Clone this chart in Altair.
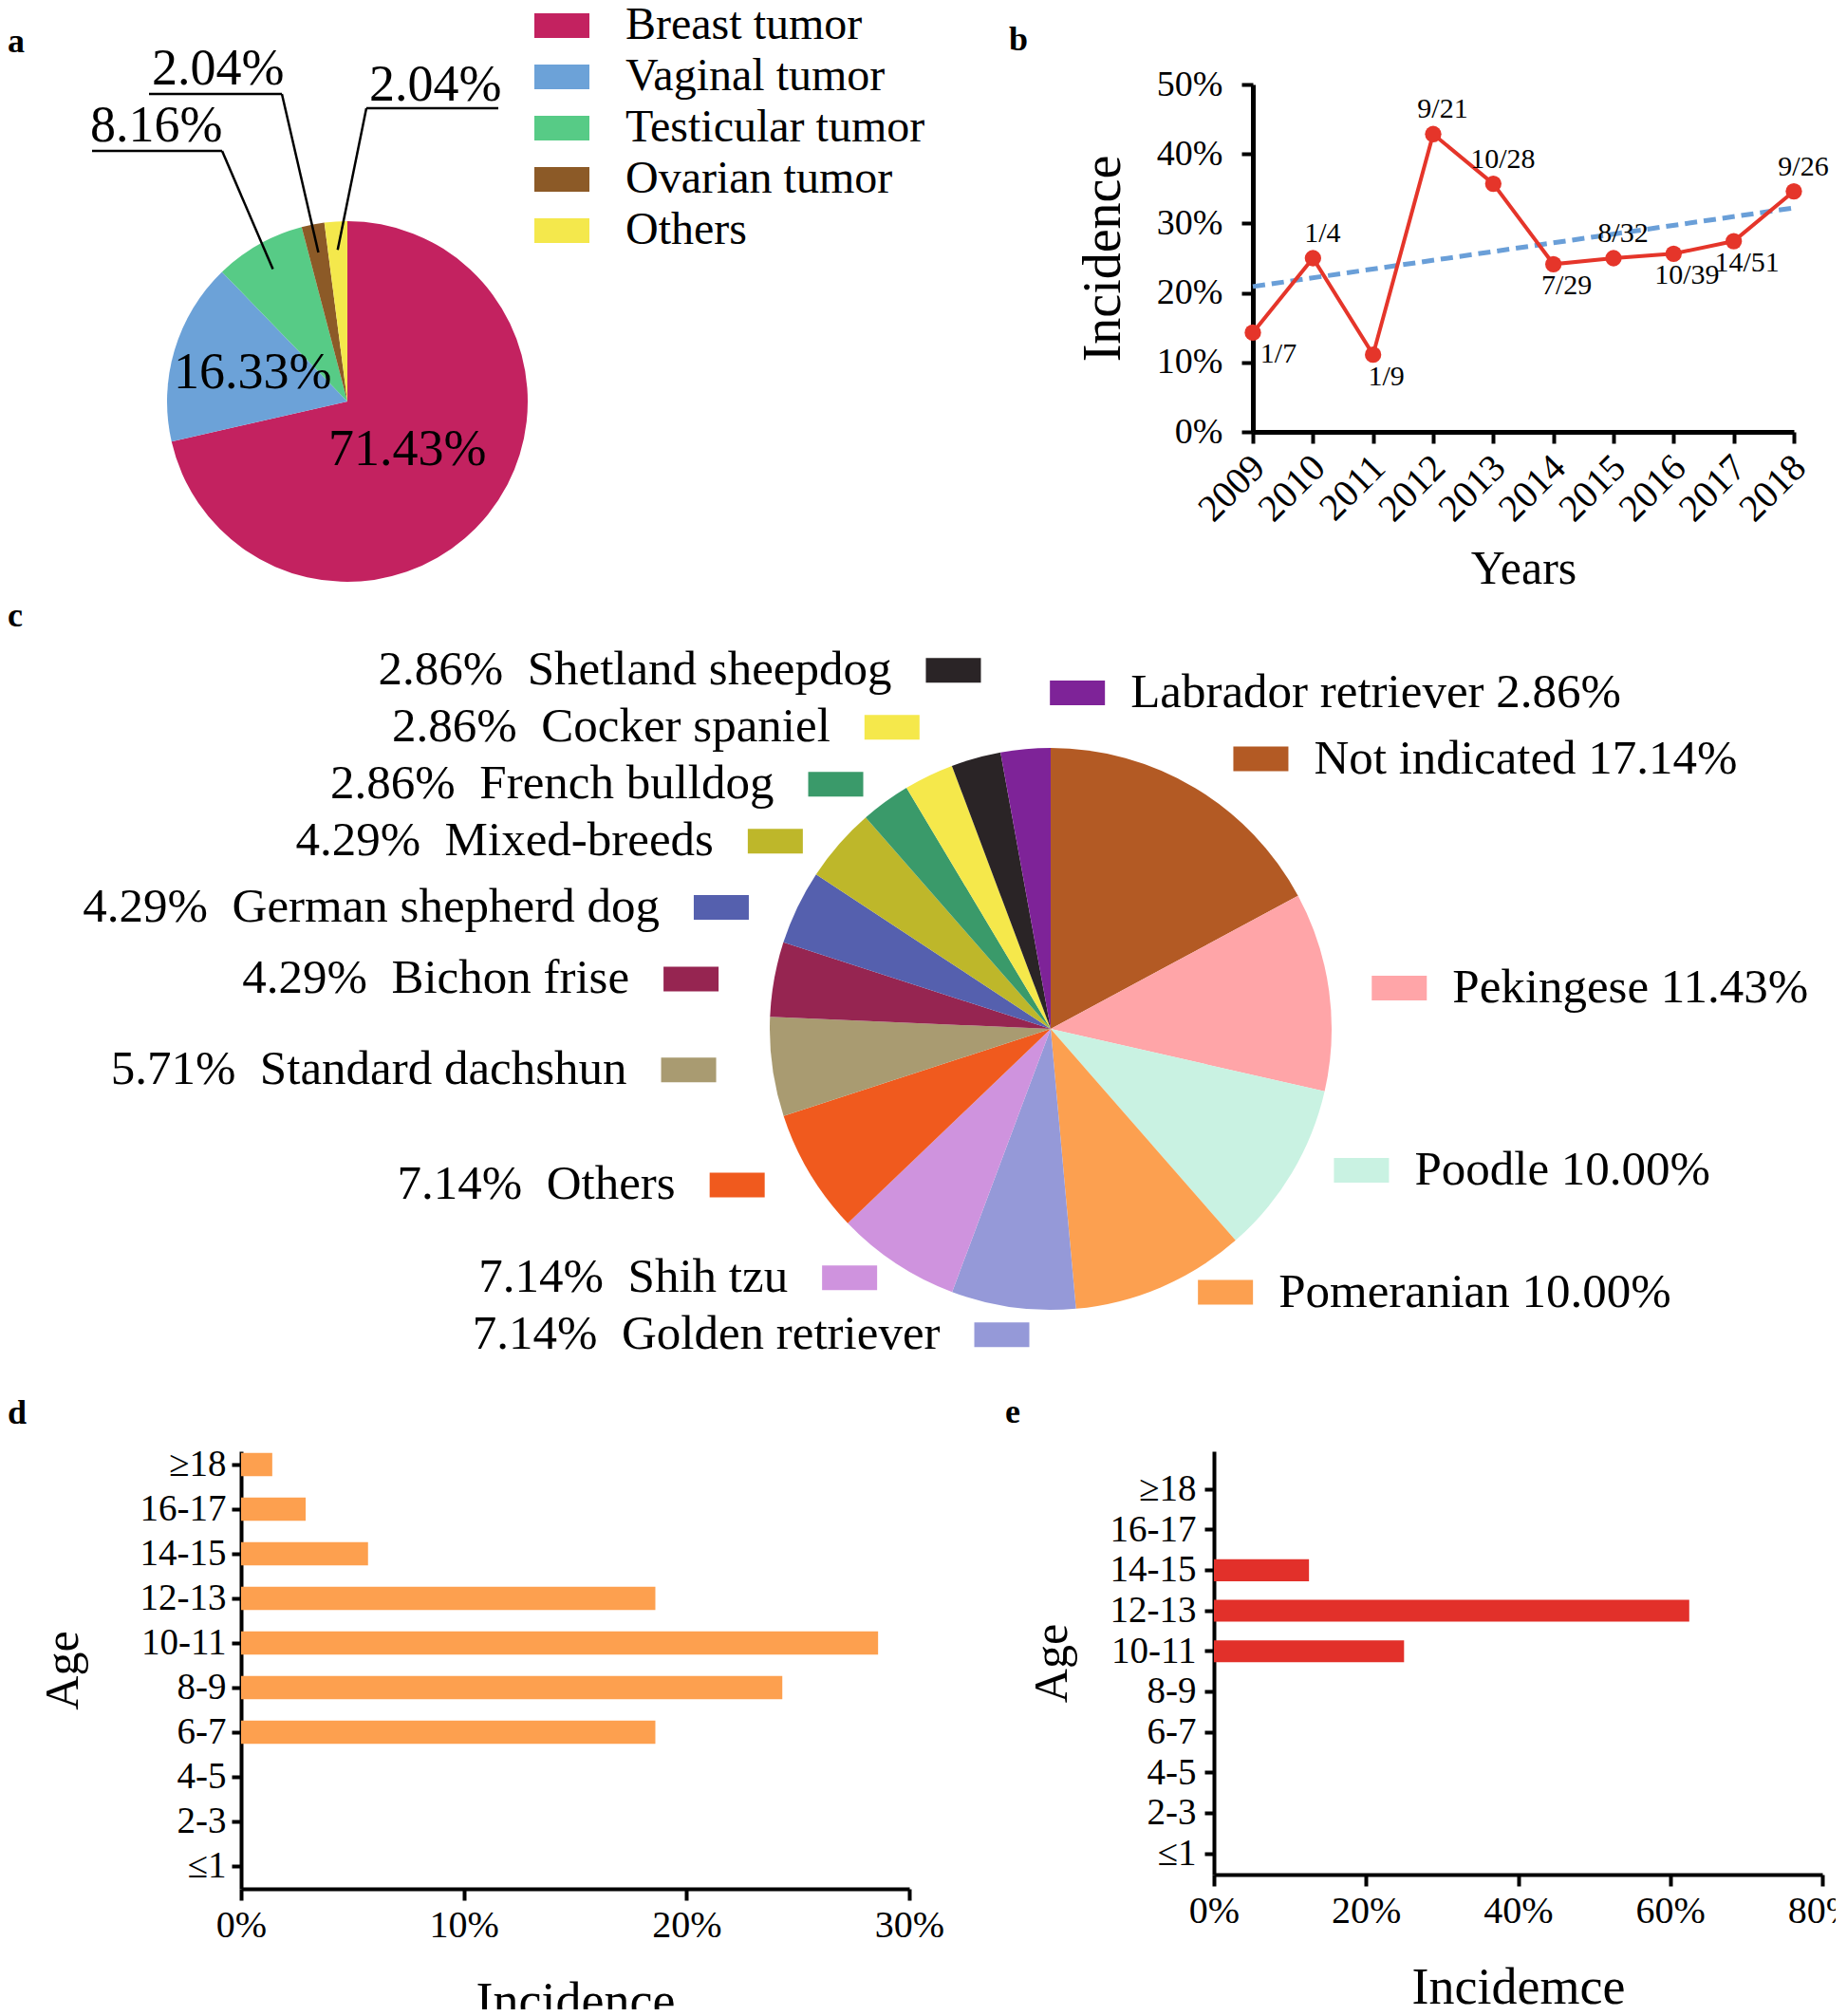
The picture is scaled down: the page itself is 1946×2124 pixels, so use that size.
import altair as alt
import pandas as pd

FONT = "Liberation Serif"
RED = "#E5352A"

# ---------------- data ----------------
a_types = ["Breast tumor", "Vaginal tumor", "Testicular tumor", "Ovarian tumor", "Others"]
a_pct = [71.43, 16.33, 8.16, 2.04, 2.04]
a_colors = ["#C32260", "#6CA2D8", "#57CB86", "#8C5A27", "#F4E84C"]

b_years = [2009, 2010, 2011, 2012, 2013, 2014, 2015, 2016, 2017, 2018]
b_incidence = [14.29, 25.00, 11.11, 42.86, 35.71, 24.14, 25.00, 25.64, 27.45, 34.62]
b_labels = ["1/7", "1/4", "1/9", "9/21", "10/28", "7/29", "8/32", "10/39", "14/51", "9/26"]

c_breeds = ["Not indicated", "Pekingese", "Poodle", "Pomeranian", "Golden retriever",
            "Shih tzu", "Others", "Standard dachshun", "Bichon frise",
            "German shepherd dog", "Mixed-breeds", "French bulldog",
            "Cocker spaniel", "Shetland sheepdog", "Labrador retriever"]
c_pct = [17.14, 11.43, 10.00, 10.00, 7.14, 7.14, 7.14, 5.71, 4.29, 4.29, 4.29,
         2.86, 2.86, 2.86, 2.86]
c_colors = ["#B35A24", "#FFA5A8", "#C9F2E2", "#FCA050", "#9599D8", "#CF93DE",
            "#F05A1E", "#A99B71", "#962551", "#5560AE", "#BEB72A", "#3A9A6A",
            "#F5E84B", "#2A2426", "#7E2398"]

ages = ["≥18", "16-17", "14-15", "12-13", "10-11", "8-9", "6-7", "4-5", "2-3", "≤1"]
d_incidence = [1.4, 2.9, 5.7, 18.6, 28.6, 24.3, 18.6, 0, 0, 0]
e_incidence = [0, 0, 12.5, 62.5, 25.0, 0, 0, 0, 0, 0]


def letter(t, dx, offset):
    return alt.TitleParams(t, anchor="start", frame="group", dx=dx, offset=offset, fontSize=36,
                           fontWeight="bold", font=FONT, color="black")


def pie_base(df):
    return (alt.Chart(df)
            .transform_window(idx="row_number()")
            .transform_joinaggregate(total="sum(pct)")
            .transform_window(cum="sum(pct)", sort=[alt.SortField("idx")], frame=[None, 0])
            .transform_calculate(mid="2*PI*(datum.cum - datum.pct/2)/datum.total",
                                 label="format(datum.pct, '.2f') + '%'"))


# ---------------- panel a ----------------
# view: 600 x 541 px, pie centre at (112, 334) inside it; scales are 1 unit = 1 px
RA = 190
A_W, A_H = 600, 541
xs_a = alt.Scale(domain=[-112, A_W - 112])
ys_a = alt.Scale(domain=[334 - A_H, 334])
a_base = pie_base(pd.DataFrame({"type": a_types, "pct": a_pct}))

a_arc = a_base.mark_arc(outerRadius=RA).encode(
    x=alt.XDatum(0, scale=xs_a, axis=None, type="quantitative"),
    y=alt.YDatum(0, scale=ys_a, axis=None, type="quantitative"),
    theta=alt.Theta("pct:Q", stack=True),
    color=alt.Color("type:N", scale=alt.Scale(domain=a_types, range=a_colors),
                    legend=alt.Legend(title=None, orient="none", legendX=314, legendY=-86,
                                      symbolType="M-1.5,-0.67H1.5V0.67H-1.5Z", symbolSize=1495,
                                      symbolStrokeWidth=0, symbolOpacity=1,
                                      labelFont=FONT, labelFontSize=48, labelColor="black",
                                      labelOffset=43, rowPadding=6, padding=0, labelLimit=0)),
    order=alt.Order("idx:Q"),
)


def inside(type_name, r):
    return (a_base.transform_filter(alt.datum.type == type_name)
            .transform_calculate(lx=f"{r}*sin(datum.mid)", ly=f"{r}*cos(datum.mid)")
            .mark_text(font=FONT, fontSize=54, color="black")
            .encode(x=alt.X("lx:Q", scale=xs_a, axis=None),
                    y=alt.Y("ly:Q", scale=ys_a, axis=None), text="label:N"))


def callout(type_name, tx, ty, ux1, ux2, uy, ax):
    sub = a_base.transform_filter(alt.datum.type == type_name)
    txt = sub.mark_text(font=FONT, fontSize=54, color="black", align="left",
                        baseline="alphabetic").encode(x=alt.value(tx), y=alt.value(ty), text="label:N")
    under = sub.mark_rule(color="black", strokeWidth=2.5).encode(
        x=alt.value(ux1), x2=alt.value(ux2), y=alt.value(uy))
    leader = (sub.transform_calculate(lx="160*sin(datum.mid)", ly="160*cos(datum.mid)")
              .mark_rule(color="black", strokeWidth=2.5)
              .encode(x=alt.X("lx:Q", scale=xs_a, axis=None), y=alt.Y("ly:Q", scale=ys_a, axis=None),
                      x2=alt.value(ax), y2=alt.value(uy)))
    return [txt, under, leader]


A = alt.layer(
    a_arc, inside("Breast tumor", 81), inside("Vaginal tumor", 104),
    *callout("Testicular tumor", -159, 60, -157, -20, 70, -20),
    *callout("Ovarian tumor", -94, 0, -97, 43, 10, 43),
    *callout("Others", 135, 17, 132, 271, 25, 132),
).properties(width=A_W, height=A_H, title=letter("a", -246, -60))

# ---------------- panel b ----------------
b_df = pd.DataFrame({"year": b_years, "inc": b_incidence, "frac": b_labels})
bx = alt.X("year:Q", scale=alt.Scale(domain=[2009, 2018], nice=False, zero=False),
           axis=alt.Axis(values=b_years, format="d", labelAngle=-45, labelAlign="right",
                         labelBaseline="middle", labelFontSize=40, labelPadding=19, labelOffset=6,
                         labelFlush=False, labelOverlap=False, tickSize=12, tickWidth=4,
                         domainWidth=5, title="Years", titleFontSize=50, titlePadding=18))
by = alt.Y("inc:Q", scale=alt.Scale(domain=[0, 50], nice=False),
           axis=alt.Axis(values=[0, 10, 20, 30, 40, 50], labelExpr="datum.value + '%'",
                         labelFontSize=38, labelPadding=20, tickSize=12, tickWidth=4,
                         domainWidth=5, title="Incidence", titleFontSize=56, titlePadding=27))
b_base = alt.Chart(b_df)
trend = b_base.transform_regression("year", "inc").mark_line(
    color="#6A9FD8", strokeWidth=5, strokeDash=[13, 7]).encode(x=bx, y=by)
b_line = b_base.mark_line(color=RED, strokeWidth=4).encode(x=bx, y=by)
b_pts = b_base.mark_circle(color=RED, size=300, opacity=1).encode(x=bx, y=by)
b_lab = (b_base.transform_window(pv="lag(inc)", nx="lead(inc)", sort=[alt.SortField("year")])
         .transform_calculate(nb="isValid(datum.pv) && isValid(datum.nx) ? (datum.pv + datum.nx)/2 : "
                                 "(isValid(datum.pv) ? datum.pv : datum.nx)"))
b_up = b_lab.transform_filter("datum.inc >= datum.nb").mark_text(
    font=FONT, fontSize=30, color="black", dx=10, dy=-26).encode(x=bx, y=by, text="frac:N")
b_dn = b_lab.transform_filter("datum.inc < datum.nb").mark_text(
    font=FONT, fontSize=30, color="black", dy=23,
    dx={"expr": "isValid(datum.pv) ? 14 : 27"}).encode(x=bx, y=by, text="frac:N")
B = alt.layer(trend, b_line, b_pts, b_up, b_dn).properties(
    width=570, height=366, title=letter("b", -257, 9))

# ---------------- panel c ----------------
# view: 1400 x 846 px, pie centre at (853, 454) inside it; scales are 1 unit = 1 px
RC = 296
C_W, C_H = 1400, 846
GAP = 60
desc = [alt.SortField("sy", order="descending")]
asc = [alt.SortField("sy", order="ascending")]
c_base = (pie_base(pd.DataFrame({"breed": c_breeds, "pct": c_pct}))
          .transform_calculate(side="sin(datum.mid) > -0.11 ? 'R' : 'L'",
                               m2="datum.mid > 1.5*PI ? datum.mid - 2*PI : datum.mid")
          .transform_calculate(ang="datum.side == 'R' ? PI/2 + (datum.m2 - PI/2)*0.9 : datum.mid")
          .transform_calculate(sx="(datum.side == 'R' ? 370 : 385) * sin(datum.ang)",
                               sy="cos(datum.ang) * (cos(datum.ang) > 0 ? 355 : 320)")
          .transform_window(rk1="row_number()", groupby=["side"], sort=desc)
          .transform_window(rk2="row_number()", groupby=["side"], sort=asc)
          .transform_calculate(z1=f"datum.sy + {GAP}*(datum.rk1 - 1)",
                               z2=f"datum.sy - {GAP}*(datum.rk2 - 1)")
          .transform_window(zmin="min(z1)", groupby=["side"], frame=[None, 0], sort=desc)
          .transform_window(zmax="max(z2)", groupby=["side"], frame=[None, 0], sort=asc)
          .transform_calculate(ay=f"((datum.zmin - {GAP}*(datum.rk1 - 1)) + "
                                  f"(datum.zmax + {GAP}*(datum.rk2 - 1))) / 2"))
xs_c = alt.Scale(domain=[-853, C_W - 853])
ys_c = alt.Scale(domain=[454 - C_H, 454])
c_color = alt.Color("breed:N", scale=alt.Scale(domain=c_breeds, range=c_colors), legend=None)
c_arc = c_base.mark_arc(outerRadius=RC).encode(
    x=alt.XDatum(0, scale=xs_c, axis=None, type="quantitative"),
    y=alt.YDatum(0, scale=ys_c, axis=None, type="quantitative"),
    theta=alt.Theta("pct:Q", stack=True), color=c_color, order=alt.Order("idx:Q"))
c_sw = (c_base.transform_calculate(rx1="datum.sx - 29", rx2="datum.sx + 29",
                                   ry1="datum.ay - 13", ry2="datum.ay + 13")
        .mark_rect().encode(x=alt.X("rx1:Q", scale=xs_c, axis=None), x2="rx2:Q",
                            y=alt.Y("ry1:Q", scale=ys_c, axis=None), y2="ry2:Q", color=c_color))
c_right = (c_base.transform_filter("datum.side == 'R'")
           .transform_calculate(t="datum.breed + ' ' + datum.label")
           .mark_text(font=FONT, fontSize=51, color="black", align="left", baseline="middle", dx=56)
           .encode(x=alt.X("sx:Q", scale=xs_c, axis=None), y=alt.Y("ay:Q", scale=ys_c, axis=None),
                   text="t:N"))
c_left = (c_base.transform_filter("datum.side == 'L'")
          .transform_calculate(t="datum.label + '\u00a0\u00a0' + datum.breed")
          .mark_text(font=FONT, fontSize=51, color="black", align="right", baseline="middle", dx=-65)
          .encode(x=alt.X("sx:Q", scale=xs_c, axis=None), y=alt.Y("ay:Q", scale=ys_c, axis=None),
                  text="t:N"))
C = alt.layer(c_arc, c_sw, c_right, c_left).properties(
    width=C_W, height=C_H, title=letter("c", -246, -38))


# ---------------- panels d, e ----------------
def age_bars(values, color, xmax, xstep, xtitle, pin, pout, align, w, h, ypad, ytpad, title):
    df = pd.DataFrame({"age": ages, "inc": values})
    return alt.Chart(df).mark_bar(color=color, opacity=1).encode(
        x=alt.X("inc:Q", scale=alt.Scale(domain=[0, xmax], nice=False),
                axis=alt.Axis(values=list(range(0, xmax + 1, xstep)), labelExpr="datum.value + '%'",
                              labelFontSize=40, labelPadding=6, labelFlush=False, tickSize=12,
                              tickWidth=4, domainWidth=4, title=xtitle, titleFontSize=54,
                              titlePadding=34)),
        y=alt.Y("age:N", scale=alt.Scale(domain=ages, paddingInner=pin, paddingOuter=pout, align=align),
                axis=alt.Axis(labelFontSize=39, labelPadding=ypad, tickSize=10, tickWidth=4,
                              domainWidth=4, title="Age", titleFontSize=50, titlePadding=ytpad,
                              labelAngle=0)),
    ).properties(width=w, height=h, title=title)


D = age_bars(d_incidence, "#FDA04F", 30, 10, "Incidence", 0.477, 0.143, 0.13, 704, 461, 6, 56,
             letter("d", -246, 16))
E = age_bars(e_incidence, "#E2302A", 80, 20, "Incidemce", 0.46, 0.456, 0.733, 641, 446, 9, 36,
             letter("e", -220, 22))

row1 = alt.hconcat(A, B, spacing=88).resolve_scale(color="independent")
row3 = alt.hconcat(D, E, spacing=64)

chart = (alt.vconcat(row1, C, row3, spacing=-6)
         .resolve_scale(color="independent")
         .properties(padding={"left": 0, "top": -5, "right": -23, "bottom": -19})
         .configure(font=FONT)
         .configure_view(stroke=None)
         .configure_axis(grid=False, domainColor="black", tickColor="black", labelColor="black",
                         titleColor="black", titleFontWeight="normal", labelFont=FONT, titleFont=FONT)
         .configure_title(font=FONT, color="black"))

chart.save("out.html", embed_options={"renderer": "svg", "actions": False})
